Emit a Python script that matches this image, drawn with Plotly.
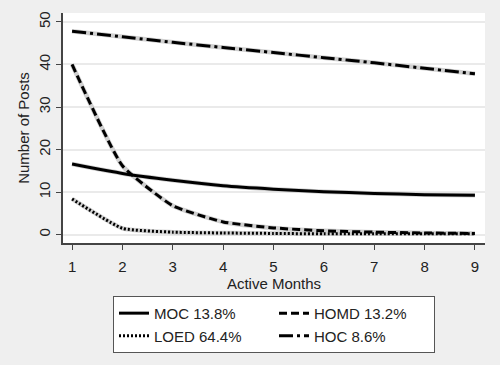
import plotly.graph_objects as go

months = [1, 2, 3, 4, 5, 6, 7, 8, 9]
moc = [16.6, 14.4, 12.8, 11.5, 10.7, 10.1, 9.7, 9.4, 9.3]
homd = [40.0, 16.2, 6.8, 3.0, 1.6, 0.9, 0.6, 0.4, 0.3]
loed = [8.4, 1.5, 0.6, 0.4, 0.3, 0.2, 0.2, 0.2, 0.2]
hoc = [47.8, 46.5, 45.2, 44.0, 42.8, 41.6, 40.4, 39.1, 37.8]

series = [
    ("MOC 13.8%", moc, "solid"),
    ("HOMD 13.2%", homd, "8px,4px"),
    ("LOED 64.4%", loed, "2px,2px"),
    ("HOC 8.6%", hoc, "14px,4px,3px,4px"),
]

fig = go.Figure()
for name, vals, dash in series:
    fig.add_trace(go.Scatter(x=months, y=vals, mode="lines", showlegend=False,
                             hoverinfo="skip",
                             line=dict(color="#d0d0d0", width=4.5, shape="spline", smoothing=0.45)))
for name, vals, dash in series:
    fig.add_trace(go.Scatter(x=months, y=vals, mode="lines", name=name,
                             line=dict(color="black", width=3, dash=dash,
                                       shape="spline", smoothing=0.45)))

fig.update_layout(
    width=500, height=365,
    paper_bgcolor="#EFEFEF", plot_bgcolor="white",
    margin=dict(l=63, r=15, t=13, b=122, autoexpand=False),
    font=dict(family="Liberation Sans, Arial, sans-serif", size=15, color="#222"),
    xaxis=dict(range=[0.82, 9.2], tickvals=months, ticks="outside", ticklen=5,
               ticklabelstandoff=4,
               tickcolor="#444", showgrid=False, zeroline=False, showline=True,
               linecolor="#444", linewidth=1.5, automargin=False,
               title=dict(text="Active Months", standoff=4, font=dict(size=15))),
    yaxis=dict(range=[-1.95, 52.1], tickvals=[0, 10, 20, 30, 40, 50], ticks="outside",
               ticklen=5, tickcolor="#444", tickangle=-90, showgrid=True,
               gridcolor="#EAEAEA", gridwidth=1.5, zeroline=False, showline=True,
               linecolor="#444", linewidth=1.5, automargin=False,
               title=dict(text="Number of Posts", standoff=3, font=dict(size=15))),
    legend=dict(orientation="h", x=0.5, xanchor="center", y=-0.23, yanchor="top",
                bgcolor="white", bordercolor="#555", borderwidth=1,
                entrywidth=115, font=dict(size=15), tracegroupgap=0),
    showlegend=True,
)

fig.write_html(
    "out.html",
    config={"displayModeBar": False},
    post_script="document.body.style.margin='0';document.body.style.background='#EFEFEF';",
)
